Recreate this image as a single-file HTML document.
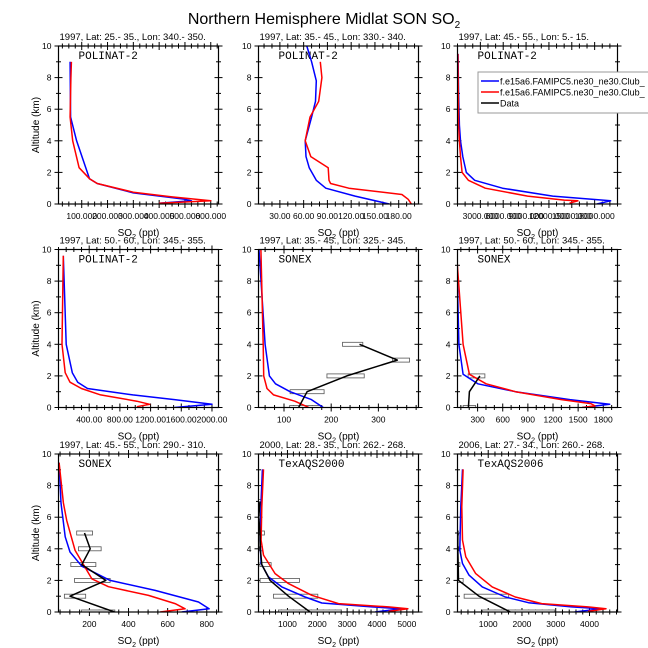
<!DOCTYPE html>
<html><head><meta charset="utf-8">
<style>
html,body{margin:0;padding:0;background:#fff;}
svg{display:block;font-family:"Liberation Sans",sans-serif;}
</style></head>
<body>
<svg id="chart" width="648" height="648" viewBox="0 0 648 648">
<text x="324" y="24" text-anchor="middle" font-size="16">Northern Hemisphere Midlat SON SO<tspan font-size="10" dy="4">2</tspan></text>
<g id="panels"></g>
<g>
<rect x="478" y="72" width="180" height="41" fill="#fff" stroke="#999" stroke-width="1"/>
<line x1="481" y1="81" x2="499" y2="81" stroke="#0000ff" stroke-width="1.5"/>
<text x="500" y="84.5" font-size="9">f.e15a6.FAMIPC5.ne30_ne30.Club_</text>
<line x1="481" y1="92" x2="499" y2="92" stroke="#ff0000" stroke-width="1.5"/>
<text x="500" y="95.5" font-size="9">f.e15a6.FAMIPC5.ne30_ne30.Club_</text>
<line x1="481" y1="103" x2="499" y2="103" stroke="#000" stroke-width="1.5"/>
<text x="500" y="106.5" font-size="9">Data</text>
</g>
</svg>
<script>
// ---- data arrays (values in ppt, altitudes in km) ----
const p1BlueAlt = [9, 5.5, 4, 1.6, 1.3, 0.7, 0.3, 0.2, 0.05];
const p1BlueVal = [55, 57, 80, 130, 160, 300, 500, 525, 400];
const p1RedAlt = [9, 8, 5.5, 4, 2.3, 1.6, 1.3, 0.75, 0.45, 0.2, 0.05];
const p1RedVal = [60, 58, 55, 65, 90, 130, 160, 300, 450, 600, 400];

const p2BlueAlt = [10, 9, 7.8, 6.5, 5.5, 4, 3, 2.3, 1.5, 1, 0.5, 0];
const p2BlueVal = [64, 70, 76, 75, 70, 62, 63, 67, 76, 88, 125, 168];
const p2RedAlt = [9, 8, 6.5, 5.5, 4, 3, 2.3, 1.5, 1.3, 1, 0.6, 0.3, 0];
const p2RedVal = [81, 83, 79, 68, 62, 69, 91, 92, 94, 117, 184, 192, 196];

const p3BlueAlt = [9.5, 7, 5, 4, 3, 2, 1.5, 1, 0.5, 0.2, 0];
const p3BlueVal = [60, 150, 250, 400, 700, 1160, 2260, 5900, 12500, 20100, 18300];
const p3RedAlt = [9.5, 7, 5, 4, 3, 2, 1.5, 1, 0.5, 0.25, 0.2, 0.05];
const p3RedVal = [50, 100, 150, 250, 400, 610, 1430, 3650, 9200, 14000, 15800, 14700];

const p4BlueAlt = [9.6, 7.5, 4, 2.2, 1.6, 1.2, 0.8, 0.5, 0.2, 0];
const p4BlueVal = [62, 77, 100, 180, 250, 378, 968, 1511, 2000, 1511];
const p4RedAlt = [9.6, 4, 2.2, 1.6, 1.2, 0.8, 0.4, 0.2, 0.05];
const p4RedVal = [62, 45, 87, 150, 299, 548, 1020, 1188, 1020];

const p5BlueAlt = [10, 4, 2, 1.5, 1, 0.5, 0];
const p5BlueVal = [47, 60, 69, 82, 113, 158, 183];
const p5RedAlt = [10, 4, 2, 1.2, 0.8, 0.4, 0];
const p5RedVal = [51, 56, 57, 64, 78, 123, 153];
const p5DataAlt = [0, 1, 2, 3, 4];
const p5DataVal = [131, 149, 233, 340, 260];
const p5BoxMin = [112, 113, 191, 330, 224];
const p5BoxMax = [178, 185, 270, 366, 267];

const p6BlueAlt = [9.5, 4, 2.1, 1.5, 1, 0.5, 0.2, 0];
const p6BlueVal = [52, 77, 127, 302, 752, 1402, 1877, 1550];
const p6RedAlt = [9.5, 4, 2.1, 1.5, 1, 0.5, 0.25, 0.1, 0];
const p6RedVal = [52, 127, 202, 402, 752, 1302, 1652, 1702, 1550];
const p6DataAlt = [0, 1, 2];
const p6DataVal = [190, 202, 327];
const p6BoxAlt = [0, 2];
const p6BoxMin = [127, 187];
const p6BoxMax = [277, 387];

const p7BlueAlt = [9.45, 6.9, 4.76, 3.8, 2.9, 2.0, 1.37, 0.63, 0.2, 0];
const p7BlueVal = [45, 55, 76, 101, 161, 306, 536, 758, 812, 672];
const p7RedAlt = [9.45, 6.9, 5.8, 3.9, 3.0, 2.1, 1.6, 1.05, 0.53, 0.2, 0];
const p7RedVal = [45, 67, 84, 127, 170, 212, 297, 502, 638, 689, 562];
const p7DataAlt = [0, 1, 2, 3, 4, 5];
const p7DataVal = [328, 101, 284, 161, 204, 175];
const p7BoxMin = [160, 72, 124, 105, 144, 135];
const p7BoxMax = [330, 181, 306, 233, 260, 216];

const p8BlueAlt = [9.03, 7.08, 4.55, 3.07, 2.22, 1.59, 0.95, 0.57, 0.32, 0.21, 0];
const p8BlueVal = [162, 117, 84, 117, 363, 810, 1592, 2151, 3827, 4832, 3940];
const p8RedAlt = [9.03, 6.66, 4.55, 3.6, 2.43, 1.8, 1.06, 0.53, 0.32, 0.21, 0.04];
const p8RedVal = [196, 140, 117, 196, 587, 1034, 1816, 2710, 4385, 5034, 4385];
const p8DataAlt = [7, 6, 5, 4, 3, 2, 1, 0];
const p8DataVal = [80, 40, 80, 90, 140, 419, 1034, 1760];
const p8BoxMin = [30, 30, 60, 60, 80, 84, 531, 698];
const p8BoxMax = [117, 100, 229, 162, 453, 1402, 2017, 2800];

const p9BlueAlt = [9.03, 6.66, 3.91, 3.07, 2.33, 1.59, 0.95, 0.59, 0.32, 0.21, 0];
const p9BlueVal = [238, 189, 159, 238, 433, 824, 1508, 2193, 3463, 4343, 3561];
const p9RedAlt = [9.03, 6.66, 4.55, 3.49, 2.43, 1.59, 0.95, 0.53, 0.32, 0.21, 0.04];
const p9RedVal = [257, 218, 238, 335, 629, 1117, 1802, 2584, 3952, 4490, 3952];
const p9DataAlt = [5, 4, 3, 2, 1, 0];
const p9DataVal = [100, 100, 110, 120, 726, 1655];
const p9BoxMin = [90, 90, 95, 90, 287, 824];
const p9BoxMax = [120, 130, 160, 257, 1606, 2975];

// tick label arrays
const p1Ticks = [100, 200, 300, 400, 500, 600];
const p2Ticks = [30, 60, 90, 120, 150, 180];
const p3Ticks = [3000, 6000, 9000, 12000, 15000, 18000];
const p4Ticks = [400, 800, 1200, 1600, 2000];
const p5Ticks = [100, 200, 300];
const p6Ticks = [300, 600, 900, 1200, 1500, 1800];
const p7Ticks = [200, 400, 600, 800];
const p8Ticks = [1000, 2000, 3000, 4000, 5000];
const p9Ticks = [1000, 2000, 3000, 4000];
const yTicks = [0, 2, 4, 6, 8, 10];

const panelTitles = [
 "1997, Lat: 25.- 35., Lon: 340.- 350.",
 "1997, Lat: 35.- 45., Lon: 330.- 340.",
 "1997, Lat: 45.- 55., Lon: 5.- 15.",
 "1997, Lat: 50.- 60., Lon: 345.- 355.",
 "1997, Lat: 35.- 45., Lon: 325.- 345.",
 "1997, Lat: 50.- 60., Lon: 345.- 355.",
 "1997, Lat: 45.- 55., Lon: 290.- 310.",
 "2000, Lat: 28.- 35., Lon: 262.- 268.",
 "2006, Lat: 27.- 34., Lon: 260.- 268."
];
const campaigns = ["POLINAT-2","POLINAT-2","POLINAT-2","POLINAT-2","SONEX","SONEX","SONEX","TexAQS2000","TexAQS2006"];

const NS = "http://www.w3.org/2000/svg";
const root = document.getElementById("panels");
function mk(tag, attrs, parent) {
  const e = document.createElementNS(NS, tag);
  for (const k in attrs) e.setAttribute(k, attrs[k]);
  (parent || root).appendChild(e);
  return e;
}

const colL = [58.5, 258.5, 457.5];
const rowT = [46, 249.5, 454];
const W = 160, H = 158;

const panels = [
 {xr:[10,630], ticks:p1Ticks, dec:3, minor:4, blue:[p1BlueAlt,p1BlueVal], red:[p1RedAlt,p1RedVal]},
 {xr:[3,205], ticks:p2Ticks, dec:2, minor:3, blue:[p2BlueAlt,p2BlueVal], red:[p2RedAlt,p2RedVal]},
 {xr:[0,21000], ticks:p3Ticks, dec:3, minor:3, blue:[p3BlueAlt,p3BlueVal], red:[p3RedAlt,p3RedVal]},
 {xr:[0,2085], ticks:p4Ticks, dec:2, minor:4, blue:[p4BlueAlt,p4BlueVal], red:[p4RedAlt,p4RedVal]},
 {xr:[46,385], ticks:p5Ticks, dec:0, minor:5, blue:[p5BlueAlt,p5BlueVal], red:[p5RedAlt,p5RedVal], data:[p5DataAlt,p5DataVal], box:[p5DataAlt,p5BoxMin,p5BoxMax]},
 {xr:[60,1970], ticks:p6Ticks, dec:0, minor:3, blue:[p6BlueAlt,p6BlueVal], red:[p6RedAlt,p6RedVal], data:[p6DataAlt,p6DataVal], box:[p6BoxAlt,p6BoxMin,p6BoxMax]},
 {xr:[42,860], ticks:p7Ticks, dec:0, minor:4, blue:[p7BlueAlt,p7BlueVal], red:[p7RedAlt,p7RedVal], data:[p7DataAlt,p7DataVal], box:[p7DataAlt,p7BoxMin,p7BoxMax]},
 {xr:[30,5390], ticks:p8Ticks, dec:0, minor:5, blue:[p8BlueAlt,p8BlueVal], red:[p8RedAlt,p8RedVal], data:[p8DataAlt,p8DataVal], box:[p8DataAlt,p8BoxMin,p8BoxMax]},
 {xr:[90,4830], ticks:p9Ticks, dec:0, minor:5, blue:[p9BlueAlt,p9BlueVal], red:[p9RedAlt,p9RedVal], data:[p9DataAlt,p9DataVal], box:[p9DataAlt,p9BoxMin,p9BoxMax]}
];

panels.forEach((p, i) => {
  const L = colL[i % 3], T = rowT[Math.floor(i / 3)], B = T + H, R = L + W;
  const g = mk("g", {});
  
  
  const xs = v => L + (v - p.xr[0]) / (p.xr[1] - p.xr[0]) * W;
  const ys = a => B - a / 10 * H;

  const clipId = "clip" + i;
  const cp = mk("clipPath", {id: clipId}, g);
  mk("rect", {x: L, y: T, width: W, height: H}, cp);

  const t = mk("text", {x: L + 1, y: T - 6, "font-size": 9.5}, g);
  t.textContent = panelTitles[i];
  
  
  const c = mk("text", {x: L + 20, y: T + 13, "font-size": 11, "font-family": "Liberation Mono, monospace"}, g);
  c.textContent = campaigns[i];
  
  

  for (let a = 0; a <= 10; a++) {
    const major = a % 2 === 0;
    const len = major ? 4 : 2.5;
    mk("line", {x1: L - len, x2: L + len, y1: ys(a), y2: ys(a), stroke: "#000", "stroke-width": 1}, g);
    mk("line", {x1: R - len, x2: R + len, y1: ys(a), y2: ys(a), stroke: "#000", "stroke-width": 1}, g);
  }
  yTicks.forEach(a => {
    const tl = mk("text", {x: L - 7, y: ys(a) + 3, "font-size": 8.5, "text-anchor": "end"}, g);
    tl.textContent = a;
    
    
  });
  const step = p.ticks[1] - p.ticks[0];
  const ms = step / p.minor;
  for (let v = Math.ceil(p.xr[0] / ms) * ms; v <= p.xr[1]; v += ms) {
    const k = Math.round(v / ms);
    const major = k % p.minor === 0 && p.ticks.some(q => Math.abs(q - v) < ms / 10);
    const len = major ? 4 : 2.5;
    mk("line", {x1: xs(v), x2: xs(v), y1: B - len, y2: B + len, stroke: "#000", "stroke-width": 1}, g);
    mk("line", {x1: xs(v), x2: xs(v), y1: T - len, y2: T + len, stroke: "#000", "stroke-width": 1}, g);
  }
  p.ticks.forEach(v => {
    const tl = mk("text", {x: xs(v), y: B + 15, "font-size": 8.5, "text-anchor": "middle"}, g);
    tl.textContent = p.dec ? v.toFixed(p.dec) : String(v);
    
    
  });
  const xt = mk("text", {x: L + W / 2, y: B + 32, "font-size": 10, "text-anchor": "middle"}, g);
  xt.innerHTML = 'SO<tspan font-size="7" dy="3">2</tspan><tspan dy="-3"> (ppt)</tspan>';
  
  
  if (i % 3 === 0) {
    const yt = mk("text", {x: 0, y: 0, "font-size": 10, "text-anchor": "middle", transform: "translate(39," + (T + H / 2) + ") rotate(-90)"}, g);
    yt.textContent = "Altitude (km)";
    
    
  }

  const plot = mk("g", {"clip-path": "url(#" + clipId + ")"}, g);
  if (p.box) {
    p.box[0].forEach((a, j) => {
      const x1 = xs(p.box[1][j]), x2 = xs(p.box[2][j]);
      const r = mk("rect", {x: x1, y: ys(a) - 2, width: Math.max(1, x2 - x1), height: 4, fill: "#fff", stroke: "#555", "stroke-width": 0.8}, plot);
      
      
    });
  }
  const line = (alts, vals, col, name) => {
    const pts = alts.map((a, j) => xs(vals[j]).toFixed(1) + "," + ys(a).toFixed(1)).join(" ");
    const pl = mk("polyline", {points: pts, fill: "none", stroke: col, "stroke-width": 1.5, "stroke-linejoin": "round"}, plot);
    
    
  };
  line(p.blue[0], p.blue[1], "#0000ff", "model-blue-line");
  line(p.red[0], p.red[1], "#ff0000", "model-red-line");
  if (p.data) line(p.data[0], p.data[1], "#000", "observed-data-line");

  const fr = mk("rect", {x: L, y: T, width: W, height: H, fill: "none", stroke: "#000", "stroke-width": 1.2}, g);
  
  
});
</script>
</body></html>
